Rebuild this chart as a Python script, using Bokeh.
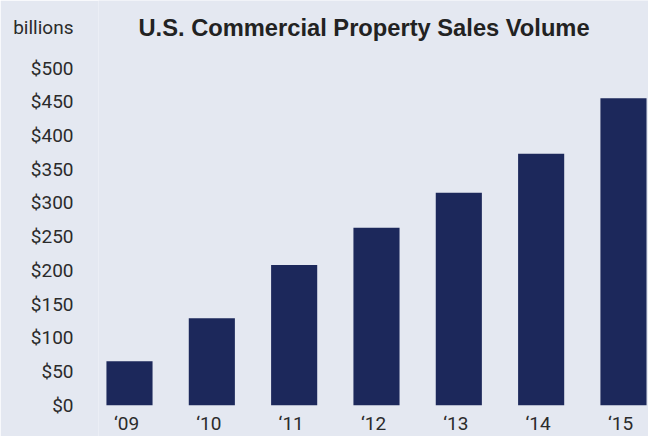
from bokeh.plotting import figure
from bokeh.models import Range1d, FixedTicker, NumeralTickFormatter, Label, ColumnDataSource
from bokeh.core.properties import value
from bokeh.embed import file_html
from bokeh.resources import INLINE

# ---- data ----
years = ["‘09", "‘10", "‘11", "‘12", "‘13", "‘14", "‘15"]
volume = [65, 129, 208, 263, 315, 373, 455]   # billions of dollars
y_ticks = [0, 50, 100, 150, 200, 250, 300, 350, 400, 450, 500]
unit_label = "billions"

# ---- style / layout ----
BG = "#e4e8f1"
BAR = "#1c285b"
TXT = "#2b2b2b"
FONT = "Roboto"
W, H = 648, 436
LEFT = 98
PX_PER_CAT = 82.33
PX_PER_UNIT = 0.6744
X0 = -0.3765
ZERO_PX = 404.7           # canvas y of the zero line

frame_w = W - LEFT
x_range = Range1d(X0, X0 + frame_w / PX_PER_CAT)
y_range = Range1d(-(H - ZERO_PX) / PX_PER_UNIT, ZERO_PX / PX_PER_UNIT)

def dx(px):  # canvas px -> data x
    return (px - LEFT) / PX_PER_CAT + X0

def dy(py):  # canvas px (from top) -> data y
    return (ZERO_PX - py) / PX_PER_UNIT

p = figure(width=W, height=H, x_range=x_range, y_range=y_range,
           output_backend="svg", toolbar_location=None,
           min_border_left=LEFT, min_border_right=0, min_border_top=0,
           min_border_bottom=0)
p.background_fill_color = BG
p.border_fill_color = BG
p.outline_line_color = None
p.xgrid.visible = False
p.ygrid.visible = False
p.xaxis.visible = False

xs = list(range(len(years)))
p.vbar(x=xs, top=volume, bottom=0, width=0.56, color=BAR, line_color=None)

# y axis with $ ticks plus the unit label on top
unit_pos = dy(27)
p.yaxis.ticker = FixedTicker(ticks=y_ticks + [unit_pos])
p.yaxis.formatter = NumeralTickFormatter(format="$0")
p.yaxis.major_label_overrides = {unit_pos: unit_label}
ax = p.yaxis[0]
ax.axis_line_color = None
ax.major_tick_line_color = None
ax.minor_tick_line_color = None
ax.major_tick_out = 0
ax.major_tick_in = 0
ax.major_label_text_font = FONT
ax.major_label_text_font_size = "19px"
ax.major_label_text_color = TXT
ax.major_label_standoff = 25

# category labels under the bars
src = ColumnDataSource(dict(x=xs, y=[dy(423)] * len(xs), t=years))
p.text(x="x", y="y", text="t", source=src, x_offset=-3,
       text_font=value(FONT), text_font_size="19px", text_color=TXT,
       text_align="center", text_baseline="middle")

p.add_layout(Label(x=dx(138), y=dy(27), text="U.S. Commercial Property Sales Volume",
                   text_font="Liberation Sans", text_font_style="bold",
                   text_font_size="23.7px", text_color="#222222",
                   text_baseline="alphabetic", text_align="left"))

open("out.html", "w").write(file_html(p, INLINE))
